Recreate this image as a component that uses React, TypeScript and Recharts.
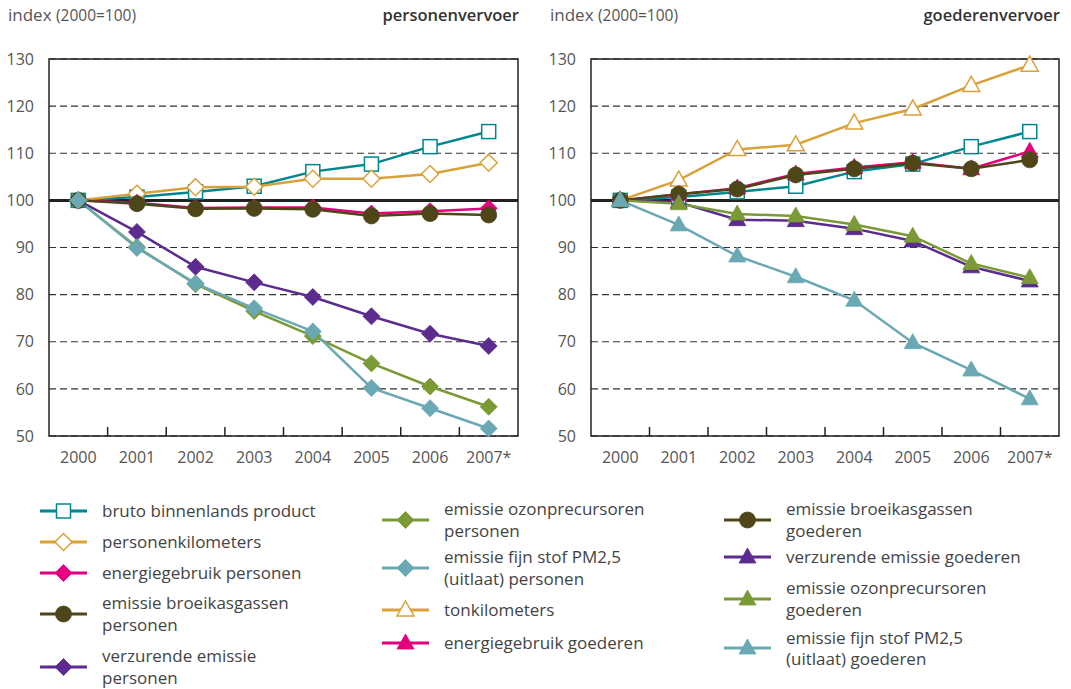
import { LineChart, Line, XAxis, YAxis, CartesianGrid, ReferenceLine, ReferenceArea } from 'recharts';

const years = ['2000', '2001', '2002', '2003', '2004', '2005', '2006', '2007*'];
const yTicks = [50, 60, 70, 80, 90, 100, 110, 120, 130];

// personenvervoer
const bbp = [100, 100.7, 101.8, 103.0, 106.1, 107.7, 111.4, 114.6];
const personenkm = [100, 101.4, 102.8, 102.9, 104.6, 104.6, 105.6, 108.0];
const energiePers = [100, 99.5, 98.4, 98.5, 98.5, 97.2, 97.7, 98.3];
const broeikasPers = [100, 99.3, 98.2, 98.3, 98.1, 96.7, 97.2, 96.9];
const verzurendPers = [100, 93.3, 85.9, 82.6, 79.5, 75.4, 71.7, 69.1];
const ozonPers = [100, 90.1, 82.2, 76.5, 71.2, 65.4, 60.5, 56.2];
const fijnstofPers = [100, 89.9, 82.4, 77.1, 72.2, 60.2, 55.9, 51.6];

// goederenvervoer
const tonkm = [100, 104.3, 110.8, 111.8, 116.4, 119.4, 124.4, 128.7];
const energieGoed = [100, 101.3, 102.6, 105.6, 107.0, 108.1, 106.7, 110.4];
const broeikasGoed = [100, 101.3, 102.4, 105.4, 106.7, 107.9, 106.7, 108.6];
const verzurendGoed = [100, 99.6, 95.9, 95.7, 94.0, 91.4, 85.9, 82.9];
const ozonGoed = [100, 99.3, 97.1, 96.7, 94.9, 92.4, 86.6, 83.6];
const fijnstofGoed = [100, 94.8, 88.2, 83.8, 78.8, 69.8, 64.0, 57.9];

const TEAL = '#00868e';
const GOLD = '#d9a13a';
const PINK = '#e4007c';
const OLIVE = '#4e4619';
const PURPLE = '#5b2b8e';
const GREEN = '#7b9a36';
const LTEAL = '#6aa8b4';
const FONT = '"Open Sans", sans-serif';

type Shape = 'square' | 'diamond' | 'circle' | 'triangle';
interface Series { key: string; name: string; values: number[]; color: string; shape: Shape; open?: boolean }

const personSeries: Series[] = [
  { key: 'bbp', name: 'bruto binnenlands product', values: bbp, color: TEAL, shape: 'square', open: true },
  { key: 'pkm', name: 'personenkilometers', values: personenkm, color: GOLD, shape: 'diamond', open: true },
  { key: 'enP', name: 'energiegebruik personen', values: energiePers, color: PINK, shape: 'diamond' },
  { key: 'brP', name: 'emissie broeikasgassen personen', values: broeikasPers, color: OLIVE, shape: 'circle' },
  { key: 'vzP', name: 'verzurende emissie personen', values: verzurendPers, color: PURPLE, shape: 'diamond' },
  { key: 'ozP', name: 'emissie ozonprecursoren personen', values: ozonPers, color: GREEN, shape: 'diamond' },
  { key: 'fsP', name: 'emissie fijn stof PM2,5 (uitlaat) personen', values: fijnstofPers, color: LTEAL, shape: 'diamond' },
];

const goodsSeries: Series[] = [
  { key: 'tkm', name: 'tonkilometers', values: tonkm, color: GOLD, shape: 'triangle', open: true },
  { key: 'bbp', name: 'bruto binnenlands product', values: bbp, color: TEAL, shape: 'square', open: true },
  { key: 'enG', name: 'energiegebruik goederen', values: energieGoed, color: PINK, shape: 'triangle' },
  { key: 'brG', name: 'emissie broeikasgassen goederen', values: broeikasGoed, color: OLIVE, shape: 'circle' },
  { key: 'vzG', name: 'verzurende emissie goederen', values: verzurendGoed, color: PURPLE, shape: 'triangle' },
  { key: 'ozG', name: 'emissie ozonprecursoren goederen', values: ozonGoed, color: GREEN, shape: 'triangle' },
  { key: 'fsG', name: 'emissie fijn stof PM2,5 (uitlaat) goederen', values: fijnstofGoed, color: LTEAL, shape: 'triangle' },
];

function buildRows(series: Series[]) {
  return years.map((year, i) => {
    const row: Record<string, string | number> = { year };
    series.forEach((s) => { row[s.key] = s.values[i]; });
    return row;
  });
}

function Marker({ shape, cx, cy, color, open }: { shape: Shape; cx: number; cy: number; color: string; open?: boolean }) {
  const fill = open ? '#fff' : color;
  const stroke = color;
  const sw = open ? 1.5 : 0.8;
  if (shape === 'square') {
    return <rect x={cx - 7} y={cy - 7} width={14} height={14} fill={fill} stroke={stroke} strokeWidth={sw} />;
  }
  if (shape === 'circle') {
    return <circle cx={cx} cy={cy} r={8} fill={fill} stroke={stroke} strokeWidth={sw} />;
  }
  if (shape === 'triangle') {
    return <polygon points={`${cx},${cy - 9} ${cx + 8.5},${cy + 6} ${cx - 8.5},${cy + 6}`} fill={fill} stroke={stroke} strokeWidth={sw} />;
  }
  return <polygon points={`${cx},${cy - 8.5} ${cx + 8.5},${cy} ${cx},${cy + 8.5} ${cx - 8.5},${cy}`} fill={fill} stroke={stroke} strokeWidth={sw} />;
}

function Panel({ series, width, marginRight, title }: { series: Series[]; width: number; marginRight: number; title: string }) {
  const data = buildRows(series);
  const band = (width - marginRight - 49) / years.length;
  const XTick = (props: any) => {
    const { x, y, payload, index } = props;
    return (
      <g>
        <text x={x} y={y + 27} textAnchor="middle" fontSize={16} fill="#555" fontFamily={FONT}>{payload.value}</text>
        {index < years.length - 1 && <line x1={x + band / 2} x2={x + band / 2} y1={y} y2={y - 9} stroke="#222" strokeWidth={1.5} />}
      </g>
    );
  };
  return (
    <div style={{ position: 'relative', width, height: 480 }}>
      <div style={{ position: 'absolute', left: 8, top: 3, fontFamily: FONT, color: '#555', fontSize: 17 }}>
        index <span style={{ fontSize: 15.5 }}>(2000=100)</span>
      </div>
      <div style={{ position: 'absolute', right: marginRight - 1, top: 3, fontFamily: FONT, color: '#333', fontSize: 16.5, fontWeight: 600 }}>
        {title}
      </div>
      <LineChart width={width} height={480} data={data} margin={{ top: 59, right: marginRight, left: 0, bottom: 0 }}>
        <CartesianGrid vertical={false} stroke="#333" strokeDasharray="7 4" strokeWidth={1.2} />
        <XAxis
          dataKey="year"
          scale="band"
          height={44}
          axisLine={false}
          tickLine={false}
          tickSize={0}
          tickMargin={0}
          interval={0}
          tick={XTick}
        />
        <YAxis
          width={49}
          domain={[50, 130]}
          ticks={yTicks}
          interval={0}
          axisLine={false}
          tickLine={false}
          tickSize={0}
          tickMargin={15}
          tick={{ fontSize: 16, fill: '#555', fontFamily: FONT }}
        />
        <ReferenceLine y={100} stroke="#222" strokeWidth={3} />
        <ReferenceArea y1={50} y2={130} fill="none" stroke="#222" strokeWidth={1.5} fillOpacity={0} />
        {series.map((s) => (
          <Line
            key={s.key}
            type="linear"
            dataKey={s.key}
            name={s.name}
            stroke={s.color}
            strokeWidth={2.5}
            isAnimationActive={false}
            activeDot={false}
            dot={(p: any) => <Marker key={`${s.key}-${p.index}`} shape={s.shape} cx={p.cx} cy={p.cy} color={s.color} open={s.open} />}
          />
        ))}
      </LineChart>
    </div>
  );
}

interface LegendItem { label: string[]; color: string; shape: Shape; open?: boolean; left: number; center: number }

const legendItems: LegendItem[] = [
  { label: ['bruto binnenlands product'], color: TEAL, shape: 'square', open: true, left: 40, center: 511 },
  { label: ['personenkilometers'], color: GOLD, shape: 'diamond', open: true, left: 40, center: 542 },
  { label: ['energiegebruik personen'], color: PINK, shape: 'diamond', left: 40, center: 573 },
  { label: ['emissie broeikasgassen', 'personen'], color: OLIVE, shape: 'circle', left: 40, center: 613.5 },
  { label: ['verzurende emissie', 'personen'], color: PURPLE, shape: 'diamond', left: 40, center: 666.5 },
  { label: ['emissie ozonprecursoren', 'personen'], color: GREEN, shape: 'diamond', left: 382, center: 519.5 },
  { label: ['emissie fijn stof PM2,5', '(uitlaat) personen'], color: LTEAL, shape: 'diamond', left: 382, center: 567.5 },
  { label: ['tonkilometers'], color: GOLD, shape: 'triangle', open: true, left: 382, center: 610 },
  { label: ['energiegebruik goederen'], color: PINK, shape: 'triangle', left: 382, center: 643 },
  { label: ['emissie broeikasgassen', 'goederen'], color: OLIVE, shape: 'circle', left: 724, center: 519.5 },
  { label: ['verzurende emissie goederen'], color: PURPLE, shape: 'triangle', left: 724, center: 557 },
  { label: ['emissie ozonprecursoren', 'goederen'], color: GREEN, shape: 'triangle', left: 724, center: 598.5 },
  { label: ['emissie fijn stof PM2,5', '(uitlaat) goederen'], color: LTEAL, shape: 'triangle', left: 724, center: 648 },
];

function LegendBlock() {
  return (
    <>
      {legendItems.map((it) => {
        const lh = 21.5;
        const h = it.label.length * lh;
        return (
          <div
            key={it.label.join(' ')}
            style={{ position: 'absolute', left: it.left, top: it.center - h / 2, height: h, display: 'flex', alignItems: 'center' }}
          >
            <svg width={47} height={20} style={{ flex: 'none' }}>
              <line x1={0} x2={47} y1={10} y2={10} stroke={it.color} strokeWidth={3} />
              <Marker shape={it.shape} cx={23.5} cy={10} color={it.color} open={it.open} />
            </svg>
            <div style={{ marginLeft: 15, fontFamily: FONT, fontSize: 17, color: '#444', lineHeight: `${lh}px`, whiteSpace: 'nowrap' }}>
              {it.label.map((l) => <div key={l}>{l}</div>)}
            </div>
          </div>
        );
      })}
    </>
  );
}

export default function App() {
  return (
    <div style={{ position: 'absolute', left: 0, top: 0, width: 1071, height: 689, background: '#fff', overflow: 'hidden' }}>
      <div style={{ position: 'absolute', left: 0, top: 0 }}>
        <Panel series={personSeries} width={540} marginRight={22} title="personenvervoer" />
      </div>
      <div style={{ position: 'absolute', left: 542, top: 0 }}>
        <Panel series={goodsSeries} width={529} marginRight={12} title="goederenvervoer" />
      </div>
      <LegendBlock />
    </div>
  );
}
